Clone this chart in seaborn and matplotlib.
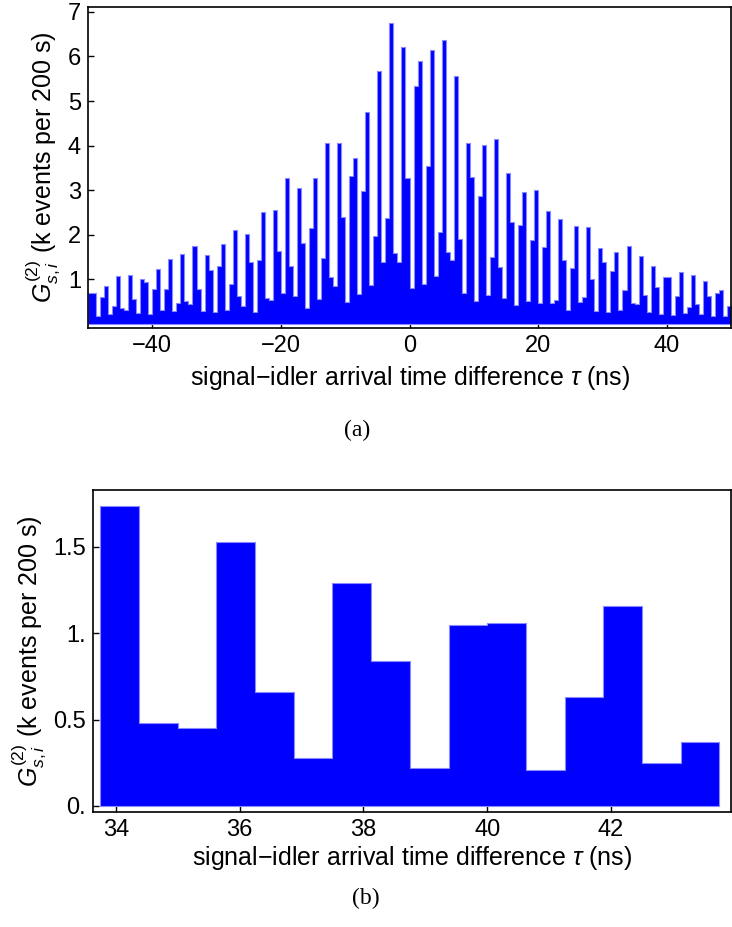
import numpy as np
import pandas as pd
import matplotlib
matplotlib.use("Agg")
import matplotlib.pyplot as plt
from matplotlib import font_manager
import seaborn as sns

# ---- data (k events per 200 s), histogram bins of 0.625 ns from -50 ns to 50 ns ----
bin_start = -50.0
bin_width = 0.625
counts = [
    0.70, 0.69, 0.17, 0.61, 0.86, 0.22, 0.40, 1.07, 0.36, 0.31,
    1.11, 0.56, 0.24, 1.00, 0.94, 0.22, 0.78, 1.23, 0.31, 0.79,
    1.46, 0.29, 0.48, 1.58, 0.51, 0.45, 1.76, 0.78, 0.30, 1.54,
    1.21, 0.27, 1.31, 1.80, 0.31, 0.89, 2.11, 0.62, 0.41, 2.01,
    1.39, 0.28, 1.43, 2.52, 0.59, 0.54, 2.56, 1.64, 0.70, 3.27,
    1.30, 0.62, 3.04, 1.81, 0.35, 2.15, 3.27, 0.56, 1.49, 4.07,
    1.05, 0.86, 4.05, 2.40, 0.50, 3.33, 3.72, 0.67, 2.99, 4.75,
    0.87, 1.97, 5.68, 1.39, 2.38, 6.75, 1.60, 1.39, 6.22, 3.27,
    0.80, 5.34, 5.89, 0.89, 3.55, 6.15, 1.07, 2.06, 6.38, 1.61,
    1.43, 5.57, 1.91, 0.69, 4.05, 3.30, 0.52, 2.87, 4.02, 0.64,
    1.50, 4.15, 1.28, 0.59, 3.39, 2.29, 0.42, 2.21, 2.97, 0.51,
    1.88, 3.01, 0.47, 1.72, 2.54, 0.47, 0.53, 2.36, 1.43, 0.32,
    1.26, 2.19, 0.50, 0.61, 2.17, 1.00, 0.30, 1.70, 1.40, 0.27,
    1.19, 1.62, 0.31, 0.77, 1.74, 0.48, 0.45, 1.53, 0.66, 0.28,
    1.29, 0.84, 0.22, 1.05, 1.06, 0.21, 0.63, 1.16, 0.25, 0.37,
    1.09, 0.45, 0.23, 0.97, 0.63, 0.19, 0.69, 0.76, 0.18, 0.41,
]
zoom_range = (33.75, 43.75)

top_xticks = [-40, -20, 0, 20, 40]
top_yticks = [1, 2, 3, 4, 5, 6, 7]
bot_xticks = [34, 36, 38, 40, 42]
bot_yticks = [0.0, 0.5, 1.0, 1.5]
bot_ytick_labels = ["0.", "0.5", "1.", "1.5"]

xlabel = r"signal$-$idler arrival time difference $\tau$ (ns)"
ylabel = r"$G^{(2)}_{s,i}$ (k events per 200 s)"

# ---- build table ----
n = len(counts)
centers = bin_start + bin_width * (np.arange(n) + 0.5)
df = pd.DataFrame({"tau": centers, "count": counts})
mask = (df["tau"] > zoom_range[0]) & (df["tau"] < zoom_range[1])
df_zoom = df[mask]

# ---- style ----
sns.set_theme(style="white")
installed = {f.name for f in font_manager.fontManager.ttflist}
if "Liberation Sans Narrow" in installed:
    sans = "Liberation Sans Narrow"
    fs_tick, fs_lab = 21, 22
else:
    sans = "Liberation Sans"
    fs_tick, fs_lab = 17, 18
plt.rcParams["font.family"] = [sans, "DejaVu Sans"]
plt.rcParams["mathtext.fontset"] = "custom"
plt.rcParams["mathtext.rm"] = sans
plt.rcParams["mathtext.it"] = sans + ":italic"
plt.rcParams["mathtext.bf"] = sans + ":bold"
for k in ("text.color", "axes.labelcolor", "xtick.color", "ytick.color", "axes.edgecolor"):
    plt.rcParams[k] = "black"

fig = plt.figure(figsize=(7.32, 9.27), dpi=100)
ax1 = fig.add_axes([88 / 732, 1 - 328 / 927, (731 - 88) / 732, (328 - 7) / 927])
ax2 = fig.add_axes([93 / 732, 1 - 812 / 927, (731 - 93) / 732, (812 - 490) / 927])

bar_kw = dict(color="#0000ff", alpha=1.0, edgecolor="#8a8aff", linewidth=0.8,
              stat="count", binwidth=bin_width, element="step", fill=True)
sns.histplot(data=df, x="tau", weights="count",
             binrange=(bin_start, bin_start + n * bin_width), ax=ax1, **bar_kw)
sns.histplot(data=df_zoom, x="tau", weights="count",
             binrange=zoom_range, ax=ax2, **bar_kw)

ax1.set_xlim(-50, 50)
ax1.set_ylim(-0.09, 7.11)
ax1.set_xticks(top_xticks)
ax1.set_xticklabels([f"{t}".replace("-", "\u2212") for t in top_xticks])
ax1.set_yticks(top_yticks)
ax1.set_yticklabels([str(t) for t in top_yticks])

ax2.set_xlim(33.63, 43.94)
ax2.set_ylim(-0.035, 1.83)
ax2.set_xticks(bot_xticks)
ax2.set_yticks(bot_yticks)
ax2.set_yticklabels(bot_ytick_labels)

for ax, lp in ((ax1, 5), (ax2, 2)):
    ax.set_xlabel(xlabel, fontsize=fs_lab, labelpad=lp)
    ax.set_ylabel(ylabel, fontsize=fs_lab, labelpad=4)
    ax.tick_params(axis="both", direction="in", length=4, width=1, labelsize=fs_tick,
                   bottom=True, left=True, top=False, right=False, pad=5, color="black")
    for s in ax.spines.values():
        s.set_visible(True)
        s.set_color("black")
        s.set_linewidth(1.2)
    ax.grid(False)

fig.text(357 / 732, 1 - 430 / 927, "(a)", ha="center", va="center",
         fontsize=17, family=["Liberation Serif", "DejaVu Serif"])
fig.text(366 / 732, 1 - 898 / 927, "(b)", ha="center", va="center",
         fontsize=17, family=["Liberation Serif", "DejaVu Serif"])

fig.savefig("out.png", dpi=100)
